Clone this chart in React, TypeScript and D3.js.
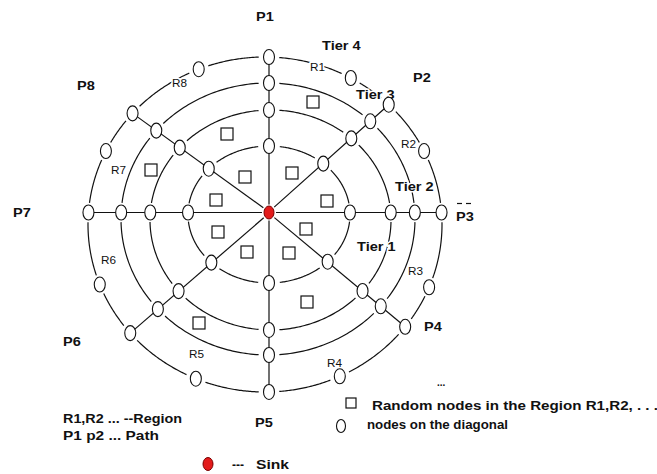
import { useEffect, useRef } from "react";
import * as d3 from "d3";

const W = 657;
const H = 474;

// sink (centre of the field)
const sinkX = 269;
const sinkY = 212.5;

// tiers: ellipse centre and radii
const tierCx = [269, 270.5, 268, 265];
const tierCy = [214.5, 220, 219, 224.5];
const tierRx = [81, 120.5, 147, 177];
const tierRy = [68.5, 110, 136, 167.5];

// paths P1..P8 as spoke directions (degrees, screen coords)
const pathAngles = [-90, -42, 0, 40, 90, 139, 180, -144];

// extra nodes on the outer tier, parametric angle in degrees
const outerNodeAngles = [-112, -61, -26, 22, 65, 113, 159, -154];

// random nodes inside the regions
const squareX = [227, 313, 151, 245, 292, 216, 327, 218, 247, 306, 289, 307, 199];
const squareY = [134, 102, 170, 177, 173, 200, 201, 232, 252, 229, 253, 302, 323];

// labels: text, x, baseline, kind (b = bold path/tier label, r = region label)
const labelText = ["P1", "Tier 4", "R1", "P2", "P8", "R8", "Tier 3", "R2", "R7", "Tier 2", "P7", "P3", "Tier 1", "R6", "R3", "P4", "P6", "R5", "R4", "P5"];
const labelX = [256, 322, 310, 413, 77, 172, 356, 401, 111, 395, 13, 456, 357, 101, 408, 424, 63, 189, 327, 255];
const labelY = [21, 50, 71, 82, 90, 87, 99, 148, 174, 191, 217, 221, 251, 264, 275, 331, 346, 358, 367, 427];
const labelKind = ["b", "b", "r", "b", "b", "r", "b", "r", "r", "b", "b", "b", "b", "r", "r", "b", "b", "r", "r", "b"];

const FONT = "'Liberation Sans', Arial, sans-serif";

export default function App() {
  const ref = useRef<SVGSVGElement>(null);

  useEffect(() => {
    const svg = d3.select(ref.current).attr("viewBox", `0 0 ${W} ${H}`);
    svg.selectAll("*").remove();

    const toRad = (d: number) => (d * Math.PI) / 180;

    // point where the spoke from the sink meets tier i
    const hit = (i: number, deg: number): [number, number] => {
      const a = toRad(deg);
      const dx = Math.cos(a);
      const dy = Math.sin(a);
      const ox = sinkX - tierCx[i];
      const oy = sinkY - tierCy[i];
      const rx2 = tierRx[i] * tierRx[i];
      const ry2 = tierRy[i] * tierRy[i];
      const A = (dx * dx) / rx2 + (dy * dy) / ry2;
      const B = 2 * ((ox * dx) / rx2 + (oy * dy) / ry2);
      const C = (ox * ox) / rx2 + (oy * oy) / ry2 - 1;
      const t = (-B + Math.sqrt(B * B - 4 * A * C)) / (2 * A);
      return [sinkX + t * dx, sinkY + t * dy];
    };
    const onTier = (i: number, t: number): [number, number] => [
      tierCx[i] + tierRx[i] * Math.cos(t),
      tierCy[i] + tierRy[i] * Math.sin(t),
    ];
    const paramOf = (i: number, p: [number, number]) =>
      Math.atan2((p[1] - tierCy[i]) / tierRy[i], (p[0] - tierCx[i]) / tierRx[i]);

    const line = d3.line<[number, number]>();
    const ink = "#111";

    // tier rings, broken at every node
    const rings = svg.append("g").attr("fill", "none").attr("stroke", ink).attr("stroke-width", 1.2);
    tierRx.forEach((_, i) => {
      let params = pathAngles.map(a => paramOf(i, hit(i, a)));
      if (i === 3) params = params.concat(outerNodeAngles.map(toRad));
      params.sort((a, b) => a - b);
      const gap = 10 / ((tierRx[i] + tierRy[i]) / 2);
      params.forEach((a, k) => {
        let b = params[(k + 1) % params.length];
        if (b <= a) b += Math.PI * 2;
        const t0 = a + gap;
        const t1 = b - gap;
        if (t1 <= t0) return;
        const pts = d3.range(0, 41).map(j => onTier(i, t0 + ((t1 - t0) * j) / 40));
        rings.append("path").attr("d", line(pts));
      });
    });

    // spokes (paths) from the sink to the outer tier
    const spokes = svg.append("g").attr("stroke", ink).attr("stroke-width", 1.2);
    pathAngles.forEach(a => {
      const end = hit(3, a);
      const r = toRad(a);
      spokes
        .append("line")
        .attr("x1", sinkX + 7 * Math.cos(r))
        .attr("y1", sinkY + 8 * Math.sin(r))
        .attr("x2", end[0])
        .attr("y2", end[1]);
    });

    // labels with a white halo so the lines break around them
    const scaleX = 1.12;
    const labels = svg.append("g").attr("font-family", FONT).attr("fill", ink);
    labelText.forEach((txt, k) => {
      const bold = labelKind[k] === "b";
      labels
        .append("text")
        .attr("transform", `translate(${labelX[k]},${labelY[k]}) scale(${scaleX},1)`)
        .attr("font-size", bold ? 13 : 10.5)
        .attr("font-weight", bold ? "bold" : "normal")
        .attr("stroke", "#fff")
        .attr("stroke-width", 3)
        .attr("paint-order", "stroke")
        .text(txt);
    });
    // the two little dashes over P3
    labels
      .append("g")
      .attr("stroke", ink)
      .attr("stroke-width", 1.2)
      .selectAll("line")
      .data([457, 466])
      .join("line")
      .attr("x1", d => d)
      .attr("x2", d => d + 5)
      .attr("y1", 203.5)
      .attr("y2", 203.5);

    // random nodes
    svg
      .append("g")
      .attr("fill", "#fff")
      .attr("stroke", ink)
      .attr("stroke-width", 1.2)
      .selectAll("rect")
      .data(squareX.map((x, k) => [x, squareY[k]]))
      .join("rect")
      .attr("x", d => d[0] - 6)
      .attr("y", d => d[1] - 6)
      .attr("width", 12)
      .attr("height", 12);

    // nodes on the diagonals and on the outer tier
    const nodePts: [number, number][] = [];
    pathAngles.forEach(a => tierRx.forEach((_, i) => nodePts.push(hit(i, a))));
    outerNodeAngles.forEach(a => nodePts.push(onTier(3, toRad(a))));
    svg
      .append("g")
      .attr("fill", "#fff")
      .attr("stroke", ink)
      .attr("stroke-width", 1.1)
      .selectAll("ellipse")
      .data(nodePts)
      .join("ellipse")
      .attr("cx", d => d[0])
      .attr("cy", d => d[1])
      .attr("rx", 5.5)
      .attr("ry", 7.5);

    // sink
    svg
      .append("ellipse")
      .attr("cx", sinkX)
      .attr("cy", sinkY)
      .attr("rx", 5)
      .attr("ry", 6.5)
      .attr("fill", "#e31b1b")
      .attr("stroke", "#7a0000")
      .attr("stroke-width", 1);

    // legend
    const leg = svg.append("g").attr("font-family", FONT).attr("font-weight", "bold").attr("fill", ink);
    const legText = (x: number, y: number, s: string, len: number | null, size = 12.5) => {
      const t = leg.append("text").attr("x", x).attr("y", y).attr("font-size", size).text(s);
      if (len) t.attr("textLength", len).attr("lengthAdjust", "spacingAndGlyphs");
    };
    legText(63, 423, "R1,R2 ... --Region", 119);
    legText(63, 440, "P1 p2 ...  Path", 96);
    legText(437, 386, "...", null, 10);
    legText(372, 410, "Random nodes in the Region R1,R2, . . .", 286);
    legText(367, 429, "nodes on the diagonal", 141);
    legText(232, 469, "---", null, 12);
    legText(256, 469, "Sink", 33);

    leg
      .append("rect")
      .attr("x", 346)
      .attr("y", 398)
      .attr("width", 10)
      .attr("height", 10)
      .attr("fill", "#fff")
      .attr("stroke", ink)
      .attr("stroke-width", 1.2);
    leg
      .append("ellipse")
      .attr("cx", 341)
      .attr("cy", 426)
      .attr("rx", 4.5)
      .attr("ry", 6.5)
      .attr("fill", "#fff")
      .attr("stroke", ink)
      .attr("stroke-width", 1.1);
    leg
      .append("ellipse")
      .attr("cx", 208)
      .attr("cy", 464)
      .attr("rx", 5)
      .attr("ry", 6.5)
      .attr("fill", "#e31b1b")
      .attr("stroke", "#7a0000");
  }, []);

  return (
    <svg
      ref={ref}
      width={W}
      height={H}
      style={{ position: "absolute", left: 0, top: 0, display: "block", background: "#fff" }}
    />
  );
}
